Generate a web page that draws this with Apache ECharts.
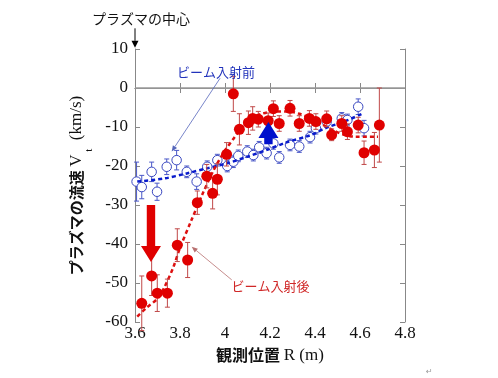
<!DOCTYPE html>
<html><head><meta charset="utf-8">
<script src="https://cdn.jsdelivr.net/npm/echarts@6/dist/echarts.min.js"></script>
<style>html,body{margin:0;padding:0;background:#fff}#c{width:498px;height:378px}</style>
</head><body><div id="c"></div>
<script>
// ---- data ----
const xTicks = [3.6, 3.8, 4.0, 4.2, 4.4, 4.6, 4.8];
const yTicks = [10, 0, -10, -20, -30, -40, -50, -60];

// ビーム入射前 (open blue circles)
const beforeX = [3.607,3.630,3.674,3.698,3.741,3.785,3.830,3.874,3.921,3.966,4.010,4.037,4.059,4.099,4.126,4.152,4.185,4.215,4.241,4.289,4.330,4.378,4.404,4.452,4.519,4.544,4.592,4.618];
const beforeY = [-24.0,-25.4,-21.5,-26.6,-20.2,-18.5,-21.5,-24.0,-20.2,-18.5,-20.0,-18.9,-17.4,-16.3,-17.2,-15.2,-16.7,-14.2,-17.8,-14.6,-15.0,-12.6,-10.3,-8.6,-7.8,-8.2,-4.8,-10.3];
const beforeErr = [5,3,2.5,2.2,2,2.5,1.5,2,1.5,1.5,1.5,1.5,1.5,1.5,1.5,1.5,1.5,1.5,1.5,1.5,1.5,1.5,1.5,1.5,1.5,1.5,2,2];

// ビーム入射後 (filled red circles)
const afterX = [3.630,3.674,3.699,3.744,3.788,3.834,3.877,3.919,3.945,3.966,4.007,4.037,4.064,4.104,4.123,4.148,4.192,4.215,4.241,4.289,4.330,4.375,4.404,4.452,4.474,4.519,4.544,4.592,4.618,4.664,4.686];
const afterY = [-55.2,-48.2,-52.6,-52.6,-40.3,-44.1,-29.4,-22.6,-27.0,-23.4,-17.0,-1.5,-10.6,-8.9,-7.8,-8.0,-8.4,-5.3,-9.1,-5.2,-9.1,-7.8,-8.6,-7.9,-12.0,-9.1,-11.2,-9.5,-16.6,-15.9,-9.5];
const afterErr = [7,5,4.7,3.6,4.2,4.5,3,3,4,4,3,4.5,4,3,3,2,2,2,2,2,2,2,2,2,1.5,2,2,2,3,4.5,9.5];

// fitted dashed curves
const beforeFitX = [3.61,3.73,3.83,3.92,4.01,4.10,4.19,4.27,4.38,4.45,4.53,4.61];
const beforeFitY = [-24.0,-23.2,-21.9,-20.6,-19.3,-17.6,-15.8,-14.0,-12.1,-10.2,-8.6,-6.6];
const afterFitX = [3.61,3.65,3.70,3.73,3.77,3.80,3.85,3.90,3.95,4.00,4.04,4.08,4.12,4.17,4.22,4.28,4.33,4.38,4.43,4.48,4.53,4.58,4.68];
const afterFitY = [-58.6,-56.4,-54.0,-51.2,-46.0,-41.0,-34.0,-27.2,-21.0,-16.0,-12.8,-9.6,-7.6,-6.5,-6.0,-6.0,-6.6,-7.8,-9.3,-10.8,-12.0,-12.5,-12.5];

// annotation anchors (data units)
const noteTexts = ['プラズマの中心', 'ビーム入射前', 'ビーム入射後'];
const noteAt = [[3.627, 17.9], [3.96, 4.1], [4.202, -50.8]];
const pointerLines = [[3.600, 15.3, 3.600, 10.3], [3.978, 2.5, 3.763, -16.3], [4.030, -49.2, 3.852, -40.7]];
const bigArrows = [[3.671, -30.0, -44.6], [4.193, -14.4, -8.7]];

// ---- chart ----
const chart = echarts.init(document.getElementById('c'), null, {renderer: 'canvas'});
const serif = '"Liberation Serif", "Noto Sans CJK JP"';
const zip = (a, b) => a.map((v, i) => [v, b[i]]);
const zip3 = (a, b, c) => a.map((v, i) => [v, b[i], c[i]]);

function errRender(color) {
  return function (params, api) {
    const x = api.value(0), y = api.value(1), e = api.value(2);
    const t = api.coord([x, y + e]), b = api.coord([x, y - e]);
    const cw = 2.5, st = {stroke: color, lineWidth: 1};
    return {type: 'group', children: [
      {type: 'line', shape: {x1: t[0], y1: t[1], x2: b[0], y2: b[1]}, style: st},
      {type: 'line', shape: {x1: t[0] - cw, y1: t[1], x2: t[0] + cw, y2: t[1]}, style: st},
      {type: 'line', shape: {x1: b[0] - cw, y1: b[1], x2: b[0] + cw, y2: b[1]}, style: st}
    ]};
  };
}

const pointerStyle = [
  {color: '#000', w: 1, hl: 7, hw: 3.5},
  {color: '#5566bb', w: 0.8, hl: 6, hw: 2.5},
  {color: '#b87070', w: 0.8, hl: 6, hw: 2.5}
];
const noteStyle = [
  {fill: '#111', size: 14},
  {fill: '#2233bb', size: 13},
  {fill: '#d02828', size: 13}
];
const bigArrowColor = ['#e00000', '#0010cc'];

const axisCommon = {
  type: 'value',
  axisLine: {show: true, lineStyle: {color: '#888', width: 1}},
  axisTick: {show: true, inside: true, length: 5, lineStyle: {color: '#888'}},
  splitLine: {show: false}
};

const option = {
  animation: false,
  backgroundColor: '#fff',
  grid: {left: 135, right: 93, top: 49, bottom: 56},
  xAxis: [
    Object.assign({}, axisCommon, {
      position: 'bottom', min: xTicks[0], max: xTicks[xTicks.length - 1], interval: 0.2,
      axisLabel: {margin: 3, fontFamily: serif, fontSize: 17, color: '#111',
        formatter: v => { const r = Math.round(v * 10) / 10; return Number.isInteger(r) ? String(r) : r.toFixed(1); }},
      name: '{j|観測位置 }{v|R (m)}', nameLocation: 'middle', nameGap: 24,
      nameTextStyle: {rich: {
        j: {fontFamily: 'Noto Sans CJK JP', fontSize: 16, fontWeight: 'bold', color: '#111'},
        v: {fontFamily: 'Liberation Serif', fontSize: 17, color: '#111'}
      }}
    }),
    Object.assign({}, axisCommon, {
      position: 'top', min: xTicks[0], max: xTicks[xTicks.length - 1], interval: 0.2,
      axisLabel: {show: false}
    })
  ],
  yAxis: [
    Object.assign({}, axisCommon, {
      position: 'left', min: yTicks[yTicks.length - 1], max: yTicks[0], interval: 10,
      axisLabel: {margin: 7, fontFamily: serif, fontSize: 17, color: '#111'},
      name: '{j|プラズマの流速 }{v|V}{s| t}{v|  (km/s)}', nameLocation: 'middle', nameRotate: 90, nameGap: 36,
      nameTextStyle: {rich: {
        j: {fontFamily: 'Noto Sans CJK JP', fontSize: 15, fontWeight: 'bold', color: '#111', lineHeight: 26, verticalAlign: 'top'},
        v: {fontFamily: 'Liberation Serif', fontSize: 17, color: '#111', lineHeight: 26, verticalAlign: 'top'},
        s: {fontFamily: 'Liberation Serif', fontSize: 11, color: '#111', lineHeight: 26, verticalAlign: 'bottom'}
      }}
    }),
    Object.assign({}, axisCommon, {
      position: 'right', min: yTicks[yTicks.length - 1], max: yTicks[0], interval: 10,
      axisLabel: {show: false}
    })
  ],
  series: [
    { // zero line
      type: 'line', data: [], silent: true,
      markLine: {symbol: 'none', silent: true, label: {show: false},
        lineStyle: {color: '#999', width: 1.5, type: 'solid'}, data: [{yAxis: 0}]}
    },
    {
      type: 'custom', name: 'beforeErr', renderItem: errRender('#4a58c8'),
      data: zip3(beforeX, beforeY, beforeErr), encode: {x: 0, y: 1}, z: 2
    },
    {
      type: 'scatter', name: 'ビーム入射前', data: zip(beforeX, beforeY), symbol: 'circle', symbolSize: 9.5,
      itemStyle: {color: '#fff', borderColor: '#3a48c0', borderWidth: 1, opacity: 1}, z: 3
    },
    {
      type: 'line', name: 'beforeFit', data: zip(beforeFitX, beforeFitY), smooth: 0.3, symbol: 'none',
      lineStyle: {color: '#0a1ccc', width: 2.5, type: [4, 3]}, z: 4
    },
    {
      type: 'line', name: 'afterFit', data: zip(afterFitX, afterFitY), smooth: 0.3, symbol: 'none',
      lineStyle: {color: '#dd1010', width: 2.5, type: [4, 3]}, z: 5
    },
    {
      type: 'custom', name: 'afterErr', renderItem: errRender('#c04848'),
      data: zip3(afterX, afterY, afterErr), encode: {x: 0, y: 1}, z: 6
    },
    {
      type: 'scatter', name: 'ビーム入射後', data: zip(afterX, afterY), symbol: 'circle', symbolSize: 11,
      itemStyle: {color: '#e00000', opacity: 1}, z: 7
    },
    { // big arrows
      type: 'custom', clip: false, z: 8,
      data: bigArrows.map((a, i) => [a[0], a[1], a[2], i]), encode: {x: 0, y: [1, 2]},
      renderItem: function (params, api) {
        const x = api.value(0), y0 = api.value(1), y1 = api.value(2), i = api.value(3);
        const p0 = api.coord([x, y0]), p1 = api.coord([x, y1]);
        const dir = p1[1] > p0[1] ? 1 : -1;
        const sw = 4.2, hw = 10, hl = 16;
        const base = p1[1] - dir * hl;
        return {type: 'polygon', shape: {points: [
          [p0[0] - sw, p0[1]], [p0[0] + sw, p0[1]], [p0[0] + sw, base], [p0[0] + hw, base],
          [p1[0], p1[1]], [p0[0] - hw, base], [p0[0] - sw, base]
        ]}, style: {fill: bigArrowColor[i]}};
      }
    },
    { // pointer lines
      type: 'custom', clip: false, z: 9,
      data: pointerLines.map((a, i) => [a[0], a[1], a[2], a[3], i]), encode: {x: [0, 2], y: [1, 3]},
      renderItem: function (params, api) {
        const i = api.value(4), s = pointerStyle[i];
        const a = api.coord([api.value(0), api.value(1)]), b = api.coord([api.value(2), api.value(3)]);
        const dx = b[0] - a[0], dy = b[1] - a[1], L = Math.hypot(dx, dy);
        const ux = dx / L, uy = dy / L, px = -uy, py = ux;
        const bx = b[0] - ux * s.hl, by = b[1] - uy * s.hl;
        return {type: 'group', children: [
          {type: 'line', shape: {x1: a[0], y1: a[1], x2: bx, y2: by}, style: {stroke: s.color, lineWidth: s.w}},
          {type: 'polygon', shape: {points: [[b[0], b[1]], [bx + px * s.hw, by + py * s.hw], [bx - px * s.hw, by - py * s.hw]]},
            style: {fill: s.color}}
        ]};
      }
    },
    { // note texts
      type: 'custom', clip: false, z: 10,
      data: noteAt.map((a, i) => [a[0], a[1], i]), encode: {x: 0, y: 1},
      renderItem: function (params, api) {
        const i = api.value(2), p = api.coord([api.value(0), api.value(1)]), s = noteStyle[i];
        return {type: 'text', x: p[0], y: p[1], style: {text: noteTexts[i], fill: s.fill,
          font: s.size + 'px "Noto Sans CJK JP"', align: 'center', verticalAlign: 'middle'}};
      }
    }
  ],
  graphic: [{type: 'text', left: 426, top: 368, style: {text: '↵', fill: '#999', font: '8px "DejaVu Sans"'}}]
};
chart.setOption(option);
</script></body></html>
